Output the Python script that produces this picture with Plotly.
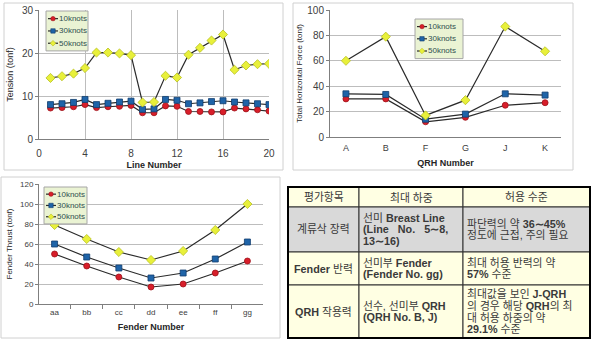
import plotly.graph_objects as go

# ---------------- data ----------------
line_no = list(range(1, 21))
tension_10 = [7.2, 7.3, 7.5, 8.0, 7.3, 7.5, 7.6, 7.8, 6.1, 6.1, 7.7, 7.6, 6.4, 6.4, 6.3, 6.3, 7.2, 7.0, 6.8, 6.5]
tension_30 = [8.0, 8.2, 8.5, 9.2, 8.0, 8.3, 8.6, 8.8, 6.9, 7.0, 9.2, 9.0, 8.2, 8.4, 8.7, 8.9, 8.6, 8.4, 8.2, 8.0]
tension_50 = [14.2, 14.6, 15.2, 16.5, 20.1, 20.1, 19.9, 19.5, 8.5, 8.6, 14.7, 14.3, 19.6, 21.2, 22.9, 24.3, 16.1, 17.1, 17.4, 17.5]

qrh = ["A", "B", "F", "G", "J", "K"]
qrh_10 = [30, 30, 12, 15.5, 25, 27]
qrh_30 = [34, 33.5, 14, 18, 34, 33]
qrh_50 = [60, 79, 17, 29, 87, 67.5]

fender = ["aa", "bb", "cc", "dd", "ee", "ff", "gg"]
fender_10 = [50, 38, 27, 17, 20, 31, 43]
fender_30 = [60, 47, 36, 26, 31, 45, 62]
fender_50 = [79, 65, 52, 44, 53, 74, 100]

series_names = ["10knots", "30knots", "50knots"]

NB = "\u00a0"
table_header = ["평가항목", "최대 하중", "허용 수준"]
table_col1 = ["계류삭 장력", "<b>Fender</b> 반력", "<b>QRH</b> 작용력"]
table_col2 = ["선미 <b>Breast Line</b><br><b>(Line" + NB * 3 + "No." + NB * 3 + "5∼8,</b><br><b>13∼16)</b>",
              "선미부 <b>Fender</b><br><b>(Fender No. gg)</b>",
              "선수, 선미부 <b>QRH</b><br><b>(QRH No. B, J)</b>"]
table_col3 = ["파단력의 약 <b>36∼45%</b><br>정도에 근접, 주의 필요",
              "최대 허용 반력의 약<br><b>57%</b> 수준",
              "최대값을 보인 <b>J-QRH</b><br>의 경우 해당 <b>QRH</b>의 최<br>대 허용 하중의 약<br><b>29.1%</b> 수준"]

# ---------------- style ----------------
W, H = 591, 341
marker_styles = [
    dict(symbol="circle", size=6, color="#D81E2A", line=dict(color="#9E1018", width=0.8)),
    dict(symbol="square", size=6, color="#1F64A8", line=dict(color="#123E6E", width=0.8)),
    dict(symbol="diamond", size=7, color="#E8F03A", line=dict(color="#B8C020", width=0.8)),
]
line_color = "#2A2A2A"
grid_color = "#BDBDBD"
axis_color = "#7F7F7F"
tick_font = dict(family="Liberation Sans, Arial", size=10, color="#404040")
title_font = dict(family="Liberation Sans, Arial", size=9, color="#262626")
legend_font = dict(family="Liberation Sans, Arial", size=8, color="#2F4F4F")
table_font = dict(family="Liberation Sans, Noto Sans CJK KR", size=10.8, color="#3A3A3A")

TABLE_LEFT, TABLE_TOP = 288, 187
COL_WIDTHS = [71, 104, 127]
ROW_HEIGHTS = [20, 45, 33, 53]          # header + 3 body rows
ROW_FILLS = ["#FFFFE3", "#D9D9D9", "#FFFFE3", "#FFFFE3"]
LINE_H = 11.7


def px_x(px):
    return px / W


def px_y(py):
    return 1 - py / H


fig = go.Figure()

charts = [
    (line_no, [tension_10, tension_30, tension_50], "x", "y"),
    (qrh, [qrh_10, qrh_30, qrh_50], "x2", "y2"),
    (fender, [fender_10, fender_30, fender_50], "x3", "y3"),
]
for xs, ys_list, xa, ya in charts:
    for name, ys, ms in zip(series_names, ys_list, marker_styles):
        fig.add_trace(go.Scatter(
            x=xs, y=ys, name=name, mode="lines+markers",
            line=dict(color=line_color, width=1.2),
            marker=ms, xaxis=xa, yaxis=ya, showlegend=False,
        ))

# ---------------- frames ----------------
shapes = [
    dict(type="rect", xref="paper", yref="paper", x0=px_x(4), x1=px_x(283), y0=px_y(170), y1=px_y(3),
         line=dict(color="#D0D0D0", width=1), layer="below"),
    dict(type="rect", xref="paper", yref="paper", x0=px_x(293), x1=px_x(573), y0=px_y(170), y1=px_y(3),
         line=dict(color="#D0D0D0", width=1), layer="below"),
    dict(type="rect", xref="paper", yref="paper", x0=px_x(1), x1=px_x(280), y0=px_y(338), y1=px_y(177),
         line=dict(color="#D0D0D0", width=1), layer="below"),
]
annotations = []

# ---------------- table (cells laid out from column widths / row heights) ----------------
table_rows = [table_header] + [list(r) for r in zip(table_col1, table_col2, table_col3)]
y_edge = TABLE_TOP
for r, (row, rh) in enumerate(zip(table_rows, ROW_HEIGHTS)):
    x_edge = TABLE_LEFT
    for c, (text, cw) in enumerate(zip(row, COL_WIDTHS)):
        shapes.append(dict(type="rect", xref="paper", yref="paper",
                           x0=px_x(x_edge), x1=px_x(x_edge + cw),
                           y0=px_y(y_edge + rh), y1=px_y(y_edge),
                           fillcolor=ROW_FILLS[r], line=dict(color="#303030", width=1),
                           layer="below"))
        lines = text.split("<br>")
        cy = y_edge + rh / 2
        centered = (r == 0 or c == 0)
        for i, ln in enumerate(lines):
            ly = cy + (i - (len(lines) - 1) / 2) * LINE_H
            annotations.append(dict(
                xref="paper", yref="paper",
                x=px_x(x_edge + cw / 2) if centered else px_x(x_edge + 3),
                y=px_y(ly), xanchor="center" if centered else "left", yanchor="middle",
                showarrow=False, text=ln, font=table_font, borderpad=0))
        x_edge += cw
    y_edge += rh
shapes.append(dict(type="rect", xref="paper", yref="paper",
                   x0=px_x(TABLE_LEFT), x1=px_x(TABLE_LEFT + sum(COL_WIDTHS)),
                   y0=px_y(y_edge), y1=px_y(TABLE_TOP),
                   line=dict(color="#000000", width=2), layer="below"))


# ---------------- compact legends (Excel style) ----------------
def add_legend(left, top, width, row_h):
    height = row_h * 3 + 3
    shapes.append(dict(type="rect", xref="paper", yref="paper",
                       x0=px_x(left), x1=px_x(left + width), y0=px_y(top + height), y1=px_y(top),
                       fillcolor="#EAF3D3", line=dict(color="#A6A6A6", width=1), layer="above"))
    for i, (name, ms) in enumerate(zip(series_names, marker_styles)):
        cy = top + 1.5 + row_h * (i + 0.5)
        lx0, lx1 = left + 2, left + 12
        mx = (lx0 + lx1) / 2
        shapes.append(dict(type="line", xref="paper", yref="paper",
                           x0=px_x(lx0), x1=px_x(lx1), y0=px_y(cy), y1=px_y(cy),
                           line=dict(color=line_color, width=1.2), layer="above"))
        r = 2.2
        mstyle = dict(xref="paper", yref="paper", fillcolor=ms["color"],
                      line=dict(color=ms["line"]["color"], width=0.6), layer="above")
        if ms["symbol"] == "circle":
            shapes.append(dict(mstyle, type="circle", x0=px_x(mx - r), x1=px_x(mx + r),
                               y0=px_y(cy + r), y1=px_y(cy - r)))
        elif ms["symbol"] == "square":
            shapes.append(dict(mstyle, type="rect", x0=px_x(mx - r), x1=px_x(mx + r),
                               y0=px_y(cy + r), y1=px_y(cy - r)))
        else:
            rr = r + 0.6
            path = (f"M {px_x(mx - rr)},{px_y(cy)} L {px_x(mx)},{px_y(cy - rr)} "
                    f"L {px_x(mx + rr)},{px_y(cy)} L {px_x(mx)},{px_y(cy + rr)} Z")
            shapes.append(dict(mstyle, type="path", path=path))
        annotations.append(dict(xref="paper", yref="paper", x=px_x(lx1), y=px_y(cy),
                                xanchor="left", yanchor="middle", showarrow=False,
                                text=name, font=legend_font, borderpad=0))


add_legend(46, 11, 42, 12.3)
add_legend(415, 19, 48, 12.2)
add_legend(44, 187, 43, 11.3)

fig.update_layout(
    width=W, height=H,
    margin=dict(l=0, r=0, t=0, b=0, autoexpand=False),
    paper_bgcolor="white", plot_bgcolor="white",
    showlegend=False,
    xaxis=dict(domain=[px_x(39), px_x(269)], range=[0, 20], dtick=4, tick0=0,
               showgrid=True, gridcolor=grid_color, zeroline=False,
               showline=True, linecolor=axis_color, mirror=False,
               ticks="", ticklabelstandoff=5, tickfont=tick_font, anchor="y",
               title=dict(text="<b>Line Number</b>", font=title_font, standoff=3)),
    yaxis=dict(domain=[px_y(139), px_y(10)], range=[0, 30], dtick=10,
               showgrid=True, gridcolor=grid_color, zeroline=False,
               showline=True, linecolor=axis_color, ticks="outside", ticklen=3,
               tickcolor=axis_color, tickfont=tick_font, anchor="x",
               title=dict(text="Tension (tonf)", font=title_font, standoff=6)),
    xaxis2=dict(domain=[px_x(330), px_x(561)], type="category",
                showgrid=False, zeroline=False, showline=True, linecolor=axis_color,
                ticks="", ticklabelstandoff=2, tickfont=dict(tick_font, size=9), anchor="y2",
                title=dict(text="<b>QRH Number</b>", font=title_font, standoff=7)),
    yaxis2=dict(domain=[px_y(137), px_y(10)], range=[0, 100], dtick=20,
                showgrid=True, gridcolor=grid_color, zeroline=False,
                showline=True, linecolor=axis_color, ticks="outside", ticklen=3,
                tickcolor=axis_color, tickfont=tick_font, anchor="x2",
                title=dict(text="Total Horizontal Force (tonf)", font=dict(title_font, size=8), standoff=3)),
    xaxis3=dict(domain=[px_x(39), px_x(263)], type="category",
                showgrid=False, zeroline=False, showline=True, linecolor=axis_color,
                ticks="outside", tickson="boundaries", ticklen=4, tickcolor=axis_color,
                tickfont=dict(tick_font, size=8), anchor="y3",
                title=dict(text="<b>Fender Number</b>", font=title_font, standoff=8)),
    yaxis3=dict(domain=[px_y(304), px_y(184)], range=[0, 120], dtick=20,
                showgrid=True, gridcolor=grid_color, zeroline=False,
                showline=True, linecolor=axis_color, ticks="outside", ticklen=3,
                tickcolor=axis_color, tickfont=dict(tick_font, size=8), anchor="x3",
                title=dict(text="Fender Thrust (tonf)", font=dict(title_font, size=8), standoff=6)),
    shapes=shapes,
    annotations=annotations,
)

fig.write_html(
    "out.html",
    config={"displayModeBar": False},
    post_script="document.body.style.margin='0';document.body.style.overflow='hidden';",
)
